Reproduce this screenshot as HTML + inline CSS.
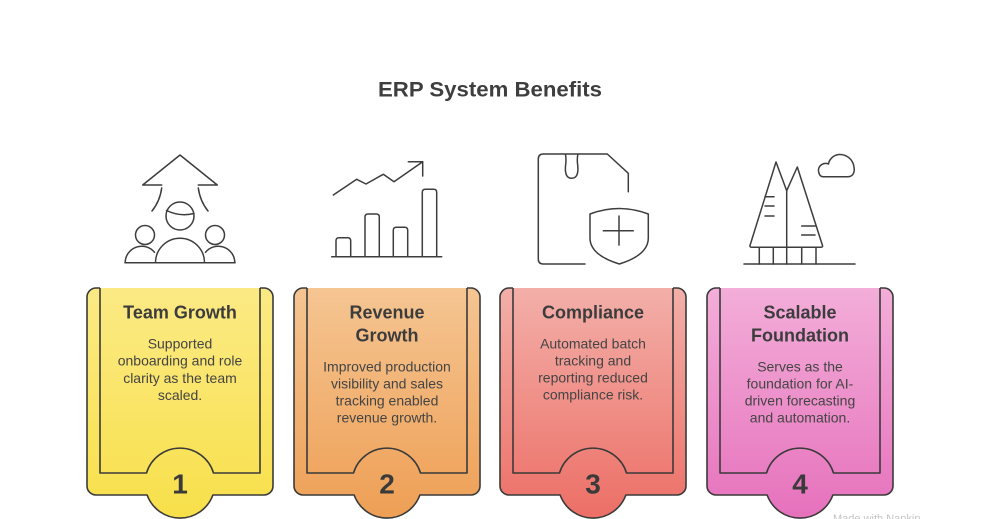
<!DOCTYPE html>
<html><head><meta charset="utf-8"><style>
html,body{margin:0;padding:0;background:#fff;}
svg{display:block;}
</style></head><body>
<svg width="1000" height="519" viewBox="0 0 1000 519" xmlns="http://www.w3.org/2000/svg" font-family="'Liberation Sans', Arial, sans-serif">
<defs>
<linearGradient id="g1" x1="0" y1="288" x2="0" y2="518" gradientUnits="userSpaceOnUse"><stop offset="0" stop-color="#fbea85"/><stop offset="1" stop-color="#f8e04a"/></linearGradient>
<linearGradient id="g2" x1="0" y1="288" x2="0" y2="518" gradientUnits="userSpaceOnUse"><stop offset="0" stop-color="#f5c592"/><stop offset="1" stop-color="#ee9f55"/></linearGradient>
<linearGradient id="g3" x1="0" y1="288" x2="0" y2="518" gradientUnits="userSpaceOnUse"><stop offset="0" stop-color="#f3afa9"/><stop offset="1" stop-color="#ec6f66"/></linearGradient>
<linearGradient id="g4" x1="0" y1="288" x2="0" y2="518" gradientUnits="userSpaceOnUse"><stop offset="0" stop-color="#f3aed9"/><stop offset="1" stop-color="#e671bc"/></linearGradient>
</defs>

<text x="490" y="96.5" text-anchor="middle" font-size="21" font-weight="bold" fill="#3e3e3e" textLength="224" lengthAdjust="spacingAndGlyphs">ERP System Benefits</text>

<!-- Icons -->
<g fill="none" stroke="#3d3d3d" stroke-width="1.5" stroke-linecap="round" stroke-linejoin="round">
  <!-- Icon 1 -->
  <path d="M161.7,185 H142.7 L180,155 L217.3,185 H198.3"/>
  <path d="M161.7,188 Q160,201 152,211"/>
  <path d="M198.3,188 Q200,201 208,211"/>
  <circle cx="180" cy="216" r="14"/>
  <path d="M166.5,210.5 Q180,217 194,213.5"/>
  <circle cx="145" cy="235" r="9.5"/>
  <circle cx="215" cy="235" r="9.5"/>
  <path d="M155.5,262.7 A24.5,24.5 0 0 1 204.5,262.7"/>
  <path d="M125.2,262.7 A16.5,16.5 0 0 1 154.5,252.3"/>
  <path d="M234.8,262.7 A16.5,16.5 0 0 0 205.5,252.3"/>
  <path d="M125,262.7 H235"/>

  <!-- Icon 2 -->
  <path d="M333.3,195 L356.7,179.3 L366,184 L383.3,174.3 L394,181.7 L422.7,161.7"/>
  <path d="M408.3,161.7 H422.7 V176"/>
  <path d="M336,256.7 V240.7 Q336,237.7 339,237.7 H347.7 Q350.7,237.7 350.7,240.7 V256.7"/>
  <path d="M365,256.7 V217 Q365,214 368,214 H376.3 Q379.3,214 379.3,217 V256.7"/>
  <path d="M393.3,256.7 V230.3 Q393.3,227.3 396.3,227.3 H404.7 Q407.7,227.3 407.7,230.3 V256.7"/>
  <path d="M422.3,256.7 V192.3 Q422.3,189.3 425.3,189.3 H433.7 Q436.7,189.3 436.7,192.3 V256.7"/>
  <path d="M331.7,256.7 H441.7"/>

  <!-- Icon 3 -->
  <path d="M585,264 H543.3 Q538.3,264 538.3,259 V159 Q538.3,154 543.3,154 H607.3 L628.3,173.3 V191.7"/>
  <path d="M565.5,154.5 Q566.5,160 565.5,166 Q564.5,178.3 571.7,178.3 Q578.8,178.3 577.8,166 Q576.8,160 577.8,154.5"/>
  <path d="M590,214 Q619,203 648.3,214 V238 Q648.3,255 619.3,264 Q590,255 590,238 Z"/>
  <path d="M603.3,230.7 H633.3 M619,216 V245"/>

  <!-- Icon 4 -->
  <path d="M776,162 L786.7,190.7 L797.3,167 L822.5,245.5 Q823,247.3 820.5,247.3 H752 Q749.5,247.3 750,245.5 Z"/>
  <path d="M786.7,190.7 V264"/>
  <path d="M759.3,247.3 V264 M773.3,247.3 V264 M801.7,247.3 V264 M816,247.3 V264"/>
  <path d="M744,264 H855"/>
  <path d="M765,196.7 H774 M765,206 H774 M765,216 H774"/>
  <path d="M801.7,226 H815 M801.7,235 H815"/>
  <path d="M823,176.7 H848 C853,176.7 855,172 854,167 C853,159 846,154 839,154.5 C833,155 829,160 828.5,164 C823,162 818,166 818.5,171 C819,175 821,176.7 823,176.7 Z"/>
</g>

<!-- Cards -->
<g stroke="#3a3a3a" stroke-width="1.6" stroke-linejoin="round">
  <!-- card 1 X=87 cx=180 -->
  <path fill="url(#g1)" d="M100,288 H96 A9,9 0 0 0 87,297 V486 A9,9 0 0 0 96,495 H147.1 A35,35 0 0 0 212.9,495 H264 A9,9 0 0 0 273,486 V297 A9,9 0 0 0 264,288 H260"/>
  <path fill="none" d="M100,288 V473 H146.5 A35,35 0 0 1 213.5,473 H260 V288"/>
  <!-- card 2 X=294 cx=387 -->
  <path fill="url(#g2)" d="M307,288 H303 A9,9 0 0 0 294,297 V486 A9,9 0 0 0 303,495 H354.1 A35,35 0 0 0 419.9,495 H471 A9,9 0 0 0 480,486 V297 A9,9 0 0 0 471,288 H467"/>
  <path fill="none" d="M307,288 V473 H353.5 A35,35 0 0 1 420.5,473 H467 V288"/>
  <!-- card 3 X=500 cx=593 -->
  <path fill="url(#g3)" d="M513,288 H509 A9,9 0 0 0 500,297 V486 A9,9 0 0 0 509,495 H560.1 A35,35 0 0 0 625.9,495 H677 A9,9 0 0 0 686,486 V297 A9,9 0 0 0 677,288 H673"/>
  <path fill="none" d="M513,288 V473 H559.5 A35,35 0 0 1 626.5,473 H673 V288"/>
  <!-- card 4 X=707 cx=800 -->
  <path fill="url(#g4)" d="M720,288 H716 A9,9 0 0 0 707,297 V486 A9,9 0 0 0 716,495 H767.1 A35,35 0 0 0 832.9,495 H884 A9,9 0 0 0 893,486 V297 A9,9 0 0 0 884,288 H880"/>
  <path fill="none" d="M720,288 V473 H766.5 A35,35 0 0 1 833.5,473 H880 V288"/>
</g>

<g text-anchor="middle" fill="#3c3c3c">
  <g font-size="18" font-weight="bold">
    <text x="180" y="318.3">Team Growth</text>
    <text x="387" y="318.3">Revenue</text>
    <text x="387" y="341.7">Growth</text>
    <text x="593" y="318.3">Compliance</text>
    <text x="800" y="318.3">Scalable</text>
    <text x="800" y="341.7">Foundation</text>
  </g>
  <g font-size="14" fill="#444">
    <text x="180" y="348.3">Supported</text>
    <text x="180" y="365.6">onboarding and role</text>
    <text x="180" y="382.9">clarity as the team</text>
    <text x="180" y="400.2">scaled.</text>

    <text x="387" y="371.3">Improved production</text>
    <text x="387" y="388.3">visibility and sales</text>
    <text x="387" y="405.3">tracking enabled</text>
    <text x="387" y="422.3">revenue growth.</text>

    <text x="593" y="348.3">Automated batch</text>
    <text x="593" y="365.3">tracking and</text>
    <text x="593" y="382.3">reporting reduced</text>
    <text x="593" y="399.3">compliance risk.</text>

    <text x="800" y="371.3">Serves as the</text>
    <text x="800" y="388.3">foundation for AI-</text>
    <text x="800" y="405.3">driven forecasting</text>
    <text x="800" y="422.3">and automation.</text>
  </g>
  <g font-size="28" font-weight="bold" fill="#3a3a3a">
    <text x="180" y="493.5">1</text>
    <text x="387" y="493.5">2</text>
    <text x="593" y="493.5">3</text>
    <text x="800" y="493.5">4</text>
  </g>
</g>

<text x="833" y="522" font-size="11" fill="#c4c4c4">Made with Napkin</text>
</svg>
</body></html>
